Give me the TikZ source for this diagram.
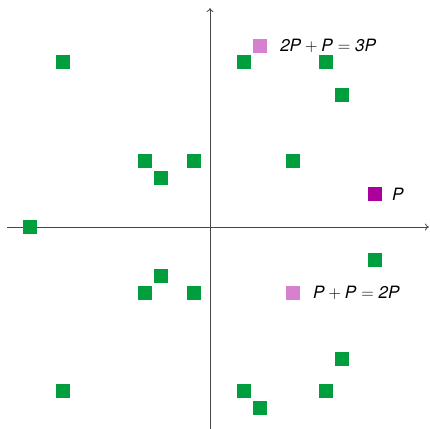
\documentclass[tikz,border=0pt]{standalone}
\usepackage{fontspec}
\setmainfont{TeX Gyre Heros}
\usetikzlibrary{arrows.meta}
\definecolor{ptgreen}{RGB}{0,158,60}
\definecolor{ptpurple}{RGB}{172,0,158}
\definecolor{ptpink}{RGB}{214,128,206}
\definecolor{axisgray}{RGB}{70,70,70}
\newcommand{\itv}[1]{\mbox{\itshape #1\/}}
\begin{document}
\begin{tikzpicture}[x=16.45pt,y=16.45pt,
  pt/.style={fill=ptgreen, minimum size=14pt, inner sep=0pt, draw=none, rectangle},
  ptp/.style={pt, fill=ptpurple},
  ptk/.style={pt, fill=ptpink},
  lbl/.style={anchor=west, inner sep=0pt, font=\fontsize{17pt}{19pt}\selectfont},
  axis/.style={draw=axisgray, line width=0.8pt, -{To[length=4pt,width=7pt]}}]
\useasboundingbox (-12.766,-12.280) rectangle (13.374,13.799);
\coordinate (xl) at (-12.34,0);
\coordinate (xr) at (13.31,0);
\coordinate (yb) at (0,-12.28);
\coordinate (yt) at (0,13.31);
\draw[axis] (xl) -- (xr);
\draw[axis] (yb) -- (yt);
\foreach \x/\y [count=\i] in {-9/10,2/10,7/10,8/8,-4/4,-1/4,5/4,-3/3,-11/0,10/-2,-3/-3,-4/-4,-1/-4,8/-8,-9/-10,2/-10,7/-10,3/-11}
  \node[pt] (g\i) at (\x+0.04,\y) {};
\node[ptk] (p3) at (3.04,11) {};
\node[ptk] (p2) at (5.04,-4) {};
\node[ptp] (p1) at (10.04,2) {};
\node[lbl] (l3) at (4.26,11) {$\itv{2P}+\itv{P}=\itv{3P}$};
\node[lbl] (l1) at (11.06,2) {$\itv{P}$};
\node[lbl] (l2) at (6.26,-4) {$\itv{P}+\itv{P}=\itv{2P}$};
\end{tikzpicture}
\end{document}
